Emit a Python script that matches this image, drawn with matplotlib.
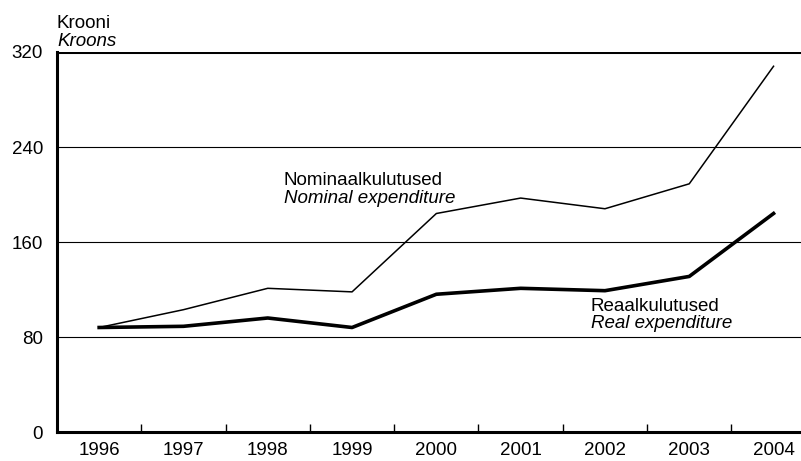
import matplotlib
matplotlib.use("Agg")
import matplotlib.pyplot as plt

years = ["1996", "1997", "1998", "1999", "2000", "2001", "2002", "2003", "2004"]
nominal = [88, 103, 121, 118, 184, 197, 188, 209, 308]
real = [88, 89, 96, 88, 116, 121, 119, 131, 184]
yticks = [0, 80, 160, 240, 320]

plt.rcParams['font.family'] = ['Liberation Sans', 'DejaVu Sans']
plt.rcParams['font.size'] = 13.5

W, H = 801, 461
fig = plt.figure(figsize=(W / 100, H / 100), dpi=100)
# axes in pixel units: left 57, right 801, top 52, bottom 432
ax = fig.add_axes([57 / W, 1 - 432 / H, (801 - 57) / W, (432 - 52) / H])

x = list(range(len(years)))
step = 84.3
ax.set_xlim(-0.5, -0.5 + (801 - 57) / step)
ax.set_ylim(0, 320)

for v in yticks[1:-1]:
    ax.axhline(v, color='black', lw=0.8, zorder=1)
ax.axhline(320, color='black', lw=2.2, zorder=1)

ax.plot(x, nominal, color='black', lw=1.1, zorder=3)
ax.plot(x, real, color='black', lw=2.6, zorder=3)

for s in ['top', 'right']:
    ax.spines[s].set_visible(False)
ax.spines['left'].set_linewidth(2.2)
ax.spines['bottom'].set_linewidth(2.2)

ax.set_yticks(yticks)
ax.set_yticklabels([str(v) for v in yticks])
ax.tick_params(axis='y', length=0, pad=10)
ax.set_xticks(x)
ax.set_xticklabels(years)
ax.tick_params(axis='x', which='major', length=0, pad=7)
ax.set_xticks([i + 0.5 for i in range(len(years) - 1)], minor=True)
ax.tick_params(axis='x', which='minor', direction='in', length=6, width=1)

ax.text(2.19, 208, "Nominaalkulutused", ha='left', va='baseline')
ax.text(2.19, 193, "Nominal expenditure", ha='left', va='baseline', style='italic')
ax.text(5.83, 102, "Reaalkulutused", ha='left', va='baseline')
ax.text(5.83, 88, "Real expenditure", ha='left', va='baseline', style='italic')

fig.text(57 / W, 1 - 28 / H, "Krooni", ha='left', va='baseline')
fig.text(57 / W, 1 - 46 / H, "Kroons", ha='left', va='baseline', style='italic')

fig.savefig("out.png", dpi=100)
